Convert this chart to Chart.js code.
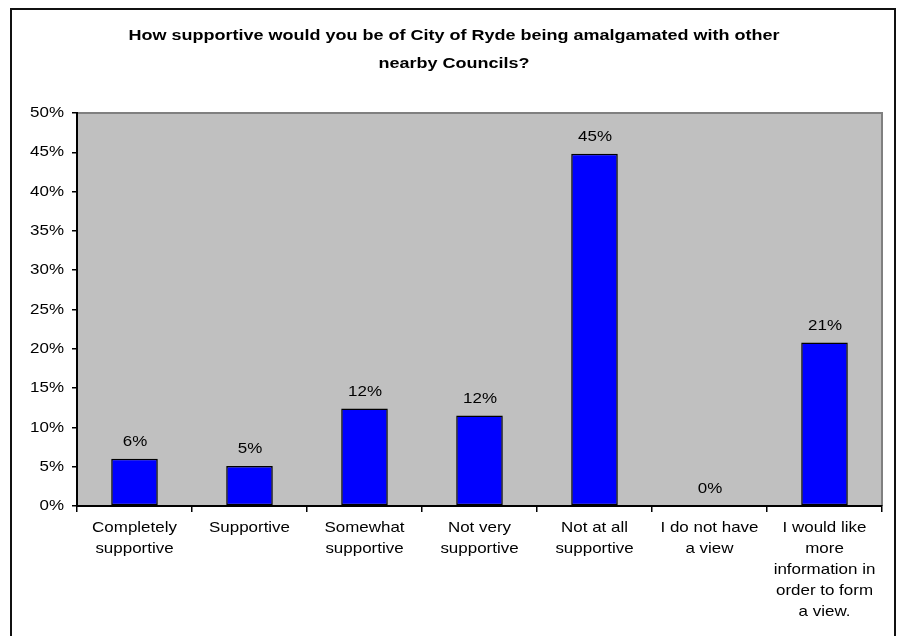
<!DOCTYPE html>
<html>
<head>
<meta charset="utf-8">
<script src="https://cdn.jsdelivr.net/npm/chart.js@4"></script>
<style>
  html, body { margin: 0; padding: 0; background: #fff; }
  #wrap { width: 903px; height: 636px; }
</style>
</head>
<body>
<div id="wrap"><canvas id="myChart" width="903" height="636"></canvas></div>
<script>
const titleLines = ['How supportive would you be of City of Ryde being amalgamated with other', 'nearby Councils?']
const categories = [
    ['Completely', 'supportive'],
    ['Supportive'],
    ['Somewhat', 'supportive'],
    ['Not very', 'supportive'],
    ['Not at all', 'supportive'],
    ['I do not have', 'a view'],
    ['I would like', 'more', 'information in', 'order to form', 'a view.']
]
const percents = [6.0, 5.1, 12.4, 11.5, 44.8, 0, 20.8]
const yTicks = [0, 5, 10, 15, 20, 25, 30, 35, 40, 45, 50]

const FONT = '"Liberation Sans", Arial, sans-serif'

// spreadsheet-style text: glyphs a bit stretched sideways
function wideText(c, text, x, y, align, sx) {
    c.save()
    c.translate(x, y)
    c.scale(sx, 1)
    c.textAlign = align
    c.fillText(text, 0, 0)
    c.restore()
}

// grey plot background, frame, title
const frame = {
    id: 'frame',
    beforeDraw(chart) {
        const c = chart.ctx, a = chart.chartArea
        c.save()
        c.fillStyle = '#fff'
        c.fillRect(0, 0, chart.width, chart.height)
        c.fillStyle = '#c0c0c0'
        c.fillRect(a.left, a.top, a.right - a.left, a.bottom - a.top)
        c.strokeStyle = '#808080'
        c.lineWidth = 2
        c.beginPath()
        c.moveTo(a.left, a.top)
        c.lineTo(a.right, a.top)
        c.lineTo(a.right, a.bottom)
        c.stroke()

        c.strokeStyle = '#111'
        c.lineWidth = 2
        c.beginPath()
        c.moveTo(11, chart.height + 5)
        c.lineTo(11, 9)
        c.lineTo(895, 9)
        c.lineTo(895, chart.height + 5)
        c.stroke()

        c.font = 'bold 15px ' + FONT
        c.fillStyle = '#000'
        c.textBaseline = 'middle'
        titleLines.forEach((t, i) => wideText(c, t, 454, 36 + i * 28, 'center', 1.2))
        c.restore()
    }
}

// axis labels and value labels
const labels = {
    id: 'labels',
    afterDatasetsDraw(chart) {
        const c = chart.ctx
        const xs = chart.scales.x, ys = chart.scales.y
        c.save()
        c.font = '15px ' + FONT
        c.fillStyle = '#000'
        c.textBaseline = 'middle'

        yTicks.forEach(v => wideText(c, v + '%', 64, ys.getPixelForValue(v), 'right', 1.13))

        categories.forEach((lines, i) => {
            const x = xs.getPixelForTick(i)
            lines.forEach((t, k) => wideText(c, t, x, xs.top + 22 + k * 21, 'center', 1.13))
        })

        chart.getDatasetMeta(0).data.forEach((bar, i) => {
            wideText(c, Math.round(percents[i]) + '%', bar.x + 0.5, bar.y - 17, 'center', 1.13)
        })
        c.restore()
    }
}

const ctx = document.getElementById('myChart')

const config = {
    type: 'bar',
    data: {
        labels: categories,
        datasets: [{
            data: percents,
            backgroundColor: '#0000ff',
            borderColor: '#000',
            borderWidth: 1.5,
            borderSkipped: false,
            categoryPercentage: 1,
            barPercentage: 0.405
        }]
    },
    options: {
        responsive: false,
        animation: false,
        layout: { padding: { left: 0, right: 21, top: 113, bottom: 0 } },
        scales: {
            x: {
                offset: true,
                grid: {
                    offset: true,
                    drawOnChartArea: false,
                    color: '#000',
                    tickLength: 6,
                    lineWidth: 1.5
                },
                border: { color: '#000', width: 2 },
                ticks: {
                    color: 'transparent',
                    font: { family: FONT, size: 15, lineHeight: 1.4 },
                    maxRotation: 0,
                    autoSkip: false,
                    padding: 5
                },
                afterFit(scale) { scale.height = 130 }
            },
            y: {
                min: 0,
                max: 50,
                afterBuildTicks(scale) { scale.ticks = yTicks.map(v => ({ value: v })) },
                grid: {
                    drawOnChartArea: false,
                    color: '#000',
                    tickLength: 5,
                    lineWidth: 1.5
                },
                border: { color: '#000', width: 2 },
                ticks: {
                    color: 'transparent',
                    font: { family: FONT, size: 15 },
                    padding: 7,
                    callback: v => v + '%'
                },
                afterFit(scale) { scale.width = 77 }
            }
        },
        plugins: {
            legend: { display: false },
            tooltip: { enabled: false },
            title: { display: false }
        }
    },
    plugins: [frame, labels]
}
const charts = new Chart(ctx, config)
</script>
</body>
</html>
